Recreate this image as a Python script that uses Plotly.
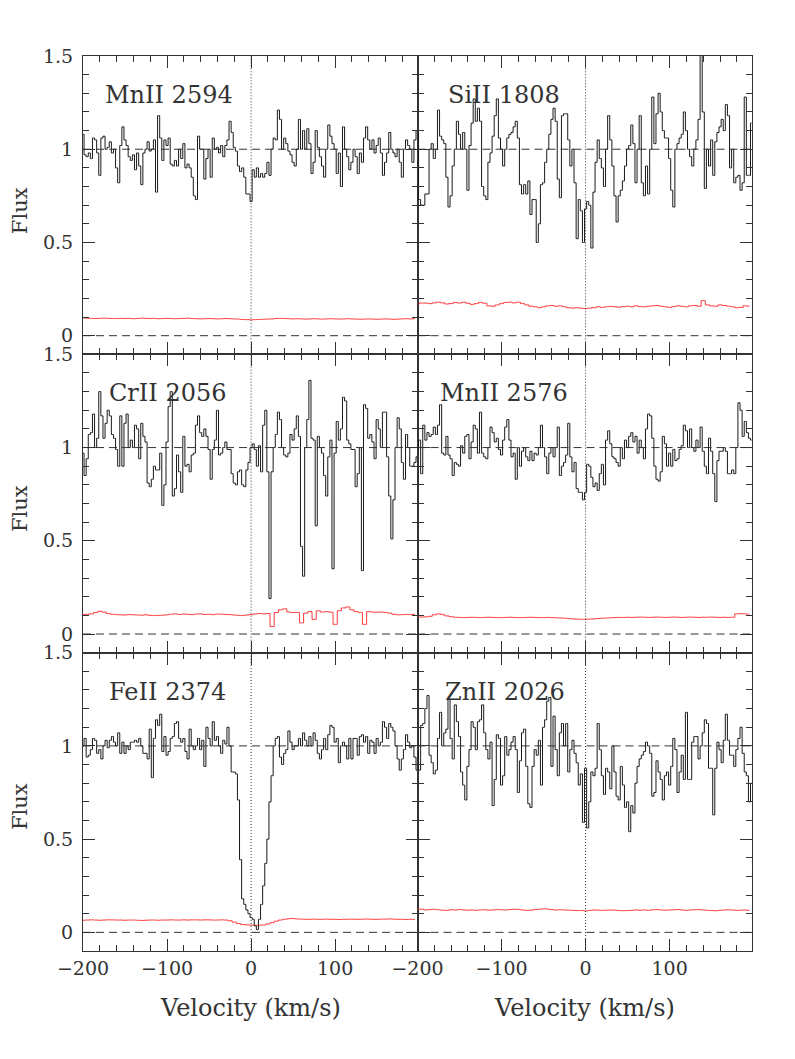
import numpy as np
import plotly.graph_objects as go
from plotly.subplots import make_subplots

# velocity bins (km/s): flux on 2.5 km/s pixels, error on 5 km/s pixels
vel = np.arange(-200, 198, 2.5)
vel_err = np.arange(-200, 198, 5)

mn2594_flux = [
    1.08, 0.97, 0.96, 0.98, 0.95, 1.06, 1.05, 0.98, 0.86, 1.06,
    1.07, 1.00, 1.01, 1.04, 0.98, 1.00, 0.90, 0.82, 1.02, 1.12,
    1.05, 1.02, 0.96, 0.94, 0.97, 0.89, 0.98, 0.91, 0.81, 0.98,
    1.00, 1.04, 0.99, 1.00, 1.05, 0.77, 1.18, 1.06, 0.94, 1.05,
    1.02, 1.06, 0.92, 0.91, 0.94, 0.91, 1.00, 0.95, 1.03, 0.90,
    0.92, 0.90, 0.85, 0.75, 0.73, 1.07, 1.00, 1.00, 0.84, 0.95,
    1.00, 0.85, 1.06, 1.00, 1.01, 0.98, 1.02, 0.96, 1.02, 1.05,
    1.15, 1.09, 1.01, 0.99, 0.91, 0.88, 0.90, 0.85, 0.76, 0.76,
    0.72, 0.89, 0.85, 0.90, 0.85, 0.87, 0.85, 0.87, 0.93, 0.86,
    1.00, 1.06, 1.05, 1.21, 1.16, 1.00, 1.06, 1.03, 0.99, 0.97,
    0.93, 0.91, 1.00, 1.16, 1.00, 1.10, 1.00, 1.11, 1.03, 0.87,
    0.93, 1.10, 1.01, 0.96, 0.91, 0.85, 1.00, 1.13, 1.07, 1.03,
    1.00, 0.87, 0.98, 0.80, 1.12, 1.00, 0.96, 0.89, 0.93, 1.00,
    0.96, 0.87, 0.98, 0.93, 1.06, 1.12, 1.05, 1.00, 1.05, 0.98,
    1.02, 1.06, 0.98, 0.86, 0.93, 0.98, 1.09, 1.00, 0.98, 0.96,
    1.00, 0.93, 0.85, 1.00, 1.05, 1.02, 1.00, 0.93, 1.05, 1.10,
]
mn2594_err = [
    0.095, 0.094, 0.093, 0.092, 0.093, 0.094, 0.093, 0.092, 0.092, 0.093,
    0.092, 0.093, 0.091, 0.092, 0.094, 0.093, 0.092, 0.093, 0.091, 0.092,
    0.093, 0.092, 0.091, 0.092, 0.093, 0.094, 0.092, 0.091, 0.090, 0.091,
    0.092, 0.091, 0.090, 0.091, 0.092, 0.091, 0.090, 0.089, 0.087, 0.086,
    0.085, 0.086, 0.087, 0.088, 0.089, 0.090, 0.092, 0.093, 0.092, 0.091,
    0.090, 0.091, 0.090, 0.089, 0.090, 0.091, 0.090, 0.089, 0.090, 0.091,
    0.090, 0.089, 0.090, 0.091, 0.090, 0.089, 0.088, 0.089, 0.090, 0.089,
    0.088, 0.089, 0.090, 0.089, 0.088, 0.089, 0.090, 0.091, 0.090, 0.091,
]

si1808_flux = [
    1.09, 0.73, 0.70, 0.70, 0.76, 0.76, 1.00, 1.03, 0.95, 1.00,
    1.21, 1.07, 1.05, 1.03, 0.85, 0.69, 0.75, 0.91, 1.00, 1.15,
    1.08, 1.00, 1.09, 1.00, 0.78, 1.02, 1.14, 1.27, 1.15, 1.22,
    1.15, 0.80, 0.75, 0.73, 0.93, 0.98, 1.07, 1.18, 1.27, 1.06,
    1.00, 0.91, 1.00, 1.06, 1.08, 1.09, 1.12, 1.15, 1.06, 0.81,
    0.76, 0.81, 0.76, 0.83, 0.65, 0.73, 0.73, 0.50, 0.60, 0.81,
    0.82, 0.93, 1.00, 1.08, 1.16, 1.22, 1.15, 0.84, 0.74, 1.18,
    1.19, 1.19, 1.05, 0.91, 1.00, 0.82, 0.52, 0.73, 0.67, 0.50,
    0.68, 0.72, 0.70, 0.47, 0.77, 0.93, 1.05, 0.95, 0.90, 0.80,
    1.00, 1.18, 1.05, 0.91, 0.75, 0.61, 0.75, 0.78, 0.83, 0.91,
    1.00, 1.02, 1.13, 1.03, 0.82, 1.00, 1.18, 0.82, 0.75, 0.91,
    0.76, 1.00, 1.28, 1.03, 1.19, 1.30, 1.20, 1.10, 1.06, 1.06,
    0.95, 0.78, 0.69, 1.00, 1.03, 1.06, 1.08, 1.20, 1.10, 1.00,
    0.96, 0.91, 1.00, 1.05, 1.16, 1.52, 1.20, 0.79, 1.00, 0.91,
    1.05, 0.86, 1.04, 1.09, 1.12, 1.16, 1.10, 1.24, 1.18, 0.90,
    1.00, 0.82, 0.85, 0.86, 0.78, 0.82, 1.28, 0.86, 0.86, 1.14,
]
si1808_err = [
    0.170, 0.175, 0.175, 0.172, 0.176, 0.180, 0.176, 0.170, 0.172, 0.178,
    0.175, 0.180, 0.174, 0.168, 0.172, 0.178, 0.174, 0.160, 0.158, 0.165,
    0.172, 0.178, 0.180, 0.176, 0.180, 0.172, 0.165, 0.158, 0.155, 0.150,
    0.155, 0.160, 0.162, 0.158, 0.160, 0.155, 0.150, 0.148, 0.150, 0.147,
    0.145, 0.148, 0.150, 0.155, 0.152, 0.155, 0.157, 0.155, 0.153, 0.156,
    0.158, 0.155, 0.160, 0.156, 0.155, 0.158, 0.160, 0.162, 0.158, 0.155,
    0.152, 0.156, 0.160, 0.158, 0.155, 0.160, 0.162, 0.158, 0.188, 0.165,
    0.160, 0.158, 0.165, 0.162, 0.158, 0.155, 0.150, 0.152, 0.160, 0.158,
]

cr2056_flux = [
    0.97, 0.85, 0.94, 1.07, 1.08, 1.18, 1.00, 1.05, 1.30, 1.17,
    1.05, 1.13, 1.20, 1.17, 1.07, 1.05, 0.99, 0.90, 1.17, 0.90,
    1.13, 1.18, 1.00, 1.04, 1.00, 1.12, 1.10, 0.94, 1.13, 1.06,
    1.03, 0.81, 0.79, 0.83, 0.90, 0.88, 0.88, 0.97, 0.69, 0.80,
    1.03, 1.22, 1.30, 0.74, 0.78, 0.96, 0.87, 0.76, 1.06, 0.90,
    0.91, 0.87, 0.96, 0.97, 1.12, 1.17, 1.08, 1.06, 1.10, 1.06,
    0.99, 0.83, 0.99, 1.04, 1.20, 0.96, 0.97, 1.00, 1.03, 0.99,
    0.99, 0.86, 0.81, 0.80, 0.87, 0.88, 0.80, 0.79, 0.88, 0.92,
    1.00, 1.02, 0.99, 0.90, 1.01, 0.87, 1.12, 1.20, 0.87, 0.19,
    0.87, 1.00, 1.07, 1.19, 1.15, 1.00, 0.96, 0.95, 0.97, 1.07,
    1.04, 1.10, 1.17, 1.06, 0.47, 0.31, 1.00, 1.15, 1.36, 1.05,
    1.04, 0.58, 1.06, 1.00, 0.97, 0.85, 0.74, 0.95, 1.04, 0.35,
    0.97, 1.14, 1.04, 1.10, 1.27, 1.25, 1.04, 1.02, 0.99, 0.99,
    0.79, 0.86, 1.00, 0.34, 1.23, 1.21, 1.05, 1.07, 1.03, 0.94,
    1.15, 1.10, 1.00, 1.19, 1.19, 0.95, 0.74, 0.51, 0.72, 1.00,
    1.16, 1.10, 0.92, 0.83, 1.07, 1.00, 0.90, 0.90, 0.92, 0.95,
]
cr2056_err = [
    0.104, 0.106, 0.108, 0.115, 0.122, 0.118, 0.110, 0.106, 0.104, 0.103,
    0.102, 0.104, 0.103, 0.102, 0.101, 0.103, 0.100, 0.099, 0.100, 0.101,
    0.103, 0.106, 0.108, 0.105, 0.107, 0.106, 0.104, 0.107, 0.108, 0.105,
    0.106, 0.104, 0.107, 0.106, 0.105, 0.104, 0.102, 0.100, 0.099, 0.102,
    0.104, 0.108, 0.110, 0.108, 0.110, 0.040, 0.115, 0.130, 0.135, 0.118,
    0.115, 0.116, 0.060, 0.112, 0.120, 0.079, 0.124, 0.118, 0.120, 0.117,
    0.052, 0.125, 0.140, 0.145, 0.130, 0.120, 0.116, 0.052, 0.120, 0.118,
    0.117, 0.118, 0.116, 0.112, 0.106, 0.103, 0.104, 0.105, 0.104, 0.106,
]

mn2576_flux = [
    0.99, 1.04, 0.86, 1.12, 1.04, 1.08, 1.06, 1.07, 1.11, 1.07,
    1.12, 1.23, 0.97, 0.96, 1.06, 0.96, 0.94, 0.85, 0.92, 0.91,
    0.90, 1.01, 0.97, 1.06, 1.07, 0.94, 1.03, 1.12, 1.10, 0.97,
    1.19, 0.97, 0.95, 0.94, 1.00, 1.11, 1.08, 1.03, 1.05, 0.99,
    0.96, 1.04, 1.11, 1.15, 1.04, 0.95, 0.97, 0.83, 1.00, 0.90,
    0.98, 1.00, 0.95, 0.93, 0.98, 0.93, 0.97, 0.96, 1.00, 1.12,
    1.00, 0.95, 0.86, 0.97, 1.00, 0.95, 1.00, 1.11, 0.85, 0.90,
    0.92, 0.96, 1.13, 0.95, 0.87, 0.92, 0.78, 0.76, 0.76, 0.72,
    0.76, 0.91, 0.90, 0.84, 0.79, 0.81, 0.77, 0.86, 0.91, 0.80,
    1.04, 1.09, 1.02, 0.95, 0.94, 0.92, 0.90, 1.00, 0.94, 1.04,
    1.00, 1.06, 1.08, 1.03, 1.06, 0.97, 1.04, 1.00, 0.94, 1.10,
    1.18, 1.17, 1.05, 0.90, 0.83, 0.82, 0.87, 1.06, 1.02, 0.90,
    0.97, 0.90, 0.99, 0.93, 0.94, 0.99, 1.01, 1.12, 1.09, 1.00,
    1.10, 1.00, 0.98, 1.04, 1.00, 1.11, 0.98, 0.90, 0.86, 1.05,
    0.98, 0.86, 0.71, 0.93, 0.98, 0.98, 1.00, 0.98, 0.86, 0.86,
    0.88, 0.86, 1.00, 1.24, 1.20, 1.06, 1.14, 1.08, 1.05, 1.04,
]
mn2576_err = [
    0.090, 0.091, 0.092, 0.095, 0.103, 0.108, 0.104, 0.097, 0.093, 0.090,
    0.089, 0.088, 0.089, 0.090, 0.089, 0.088, 0.089, 0.090, 0.089, 0.088,
    0.088, 0.089, 0.090, 0.089, 0.088, 0.088, 0.089, 0.090, 0.089, 0.088,
    0.088, 0.089, 0.088, 0.087, 0.086, 0.085, 0.083, 0.081, 0.080, 0.079,
    0.079, 0.080, 0.081, 0.083, 0.085, 0.086, 0.087, 0.088, 0.089, 0.089,
    0.090, 0.089, 0.090, 0.091, 0.090, 0.089, 0.090, 0.091, 0.090, 0.089,
    0.090, 0.091, 0.090, 0.089, 0.090, 0.091, 0.090, 0.089, 0.090, 0.090,
    0.091, 0.090, 0.089, 0.090, 0.089, 0.090, 0.108, 0.109, 0.108, 0.107,
]

fe2374_flux = [
    1.00, 1.04, 0.94, 0.95, 0.98, 1.04, 1.03, 0.96, 0.98, 0.93,
    1.00, 1.03, 0.99, 1.03, 1.05, 1.02, 1.00, 1.07, 0.96, 1.02,
    0.96, 1.00, 0.98, 1.02, 1.02, 1.03, 1.02, 1.04, 1.00, 0.96,
    0.96, 0.93, 1.09, 0.83, 1.04, 1.14, 1.11, 1.17, 0.97, 1.05,
    0.95, 0.97, 1.04, 1.05, 1.12, 1.13, 1.04, 1.02, 1.04, 0.97,
    0.93, 1.09, 1.00, 0.98, 1.00, 1.04, 0.98, 1.03, 0.89, 1.10,
    1.04, 1.00, 1.13, 1.03, 1.05, 1.00, 0.96, 1.03, 1.01, 1.10,
    1.00, 0.86, 0.86, 0.85, 0.71, 0.39, 0.18, 0.15, 0.12, 0.10,
    0.08, 0.07, 0.035, 0.015, 0.07, 0.15, 0.25, 0.37, 0.50, 0.70,
    0.84, 1.00, 1.04, 1.05, 0.94, 0.90, 0.96, 0.98, 1.08, 1.02,
    0.98, 1.00, 1.00, 1.04, 1.00, 1.07, 1.03, 1.00, 1.05, 1.00,
    1.07, 1.03, 0.96, 0.93, 0.98, 1.04, 0.98, 1.06, 1.11, 1.10,
    1.02, 1.04, 0.91, 1.00, 1.02, 1.00, 0.93, 1.04, 0.93, 1.04,
    1.04, 0.95, 1.05, 1.06, 1.02, 1.05, 0.96, 1.03, 1.02, 0.96,
    1.04, 1.00, 1.02, 1.13, 1.10, 1.04, 1.12, 1.10, 1.08, 1.00,
    0.93, 0.87, 0.93, 0.98, 1.06, 1.02, 0.99, 1.00, 0.94, 0.87,
]
fe2374_err = [
    0.065, 0.066, 0.067, 0.066, 0.065, 0.066, 0.067, 0.067, 0.066, 0.066,
    0.065, 0.066, 0.066, 0.065, 0.064, 0.065, 0.066, 0.066, 0.065, 0.066,
    0.066, 0.067, 0.066, 0.066, 0.067, 0.066, 0.067, 0.067, 0.066, 0.067,
    0.067, 0.066, 0.066, 0.067, 0.066, 0.062, 0.055, 0.047, 0.042, 0.040,
    0.039, 0.038, 0.038, 0.040, 0.045, 0.052, 0.060, 0.066, 0.070, 0.073,
    0.074, 0.072, 0.071, 0.070, 0.070, 0.071, 0.070, 0.070, 0.071, 0.070,
    0.070, 0.069, 0.070, 0.070, 0.071, 0.070, 0.070, 0.071, 0.071, 0.070,
    0.070, 0.071, 0.071, 0.072, 0.071, 0.070, 0.070, 0.069, 0.070, 0.070,
]

zn2026_flux = [
    0.97, 0.87, 1.11, 1.12, 1.20, 1.27, 0.95, 0.91, 0.85, 0.87,
    1.04, 1.18, 1.00, 1.07, 1.09, 1.25, 1.04, 0.93, 1.22, 1.13,
    1.05, 0.86, 0.79, 0.71, 0.89, 0.98, 1.13, 1.10, 0.98, 1.13,
    1.14, 1.22, 1.07, 0.98, 0.93, 1.02, 0.68, 0.82, 1.06, 1.04,
    0.79, 0.84, 1.05, 0.95, 0.98, 1.02, 1.05, 0.98, 0.75, 0.92,
    1.07, 1.09, 0.89, 0.69, 0.67, 0.89, 0.98, 0.95, 1.03, 0.79,
    1.10, 1.14, 1.24, 1.26, 0.89, 1.16, 0.98, 0.84, 1.07, 1.12,
    1.00, 1.12, 0.86, 0.98, 1.03, 0.96, 0.91, 0.79, 0.85, 0.59,
    0.88, 0.56, 0.70, 0.86, 0.84, 0.88, 1.12, 0.98, 0.84, 0.74,
    0.88, 0.86, 0.77, 1.00, 0.86, 0.73, 0.71, 0.89, 0.79, 0.67,
    0.70, 0.54, 0.68, 0.64, 0.80, 0.89, 0.93, 0.95, 0.97, 1.02,
    1.00, 0.96, 0.73, 0.75, 0.92, 0.86, 0.82, 0.71, 0.84, 0.86,
    0.79, 0.89, 1.04, 0.98, 0.75, 0.86, 0.95, 0.82, 1.18, 0.82,
    0.82, 1.02, 1.05, 1.05, 0.93, 1.00, 1.07, 1.14, 1.12, 0.88,
    0.88, 0.63, 0.88, 1.02, 0.98, 0.91, 1.03, 1.17, 1.03, 0.95,
    0.95, 0.89, 0.98, 1.04, 1.10, 0.96, 0.86, 0.84, 0.70, 0.80,
]
zn2026_err = [
    0.126, 0.124, 0.120, 0.122, 0.124, 0.121, 0.119, 0.118, 0.121, 0.120,
    0.122, 0.120, 0.119, 0.120, 0.118, 0.120, 0.121, 0.119, 0.120, 0.122,
    0.121, 0.120, 0.122, 0.124, 0.123, 0.120, 0.118, 0.119, 0.122, 0.124,
    0.126, 0.125, 0.122, 0.120, 0.121, 0.120, 0.119, 0.118, 0.117, 0.117,
    0.115, 0.118, 0.120, 0.119, 0.118, 0.119, 0.120, 0.119, 0.117, 0.116,
    0.117, 0.118, 0.120, 0.119, 0.120, 0.118, 0.121, 0.122, 0.120, 0.119,
    0.120, 0.121, 0.122, 0.120, 0.118, 0.120, 0.121, 0.122, 0.120, 0.118,
    0.117, 0.116, 0.118, 0.120, 0.121, 0.120, 0.118, 0.119, 0.120, 0.118,
]

# (label, flux, error, row, col, label x position in panel)
panels = [
    ("MnII 2594", mn2594_flux, mn2594_err, 1, 1, 0.06),
    ("SiII 1808", si1808_flux, si1808_err, 1, 2, 0.084),
    ("CrII 2056", cr2056_flux, cr2056_err, 2, 1, 0.072),
    ("MnII 2576", mn2576_flux, mn2576_err, 2, 2, 0.06),
    ("FeII 2374", fe2374_flux, fe2374_err, 3, 1, 0.072),
    ("ZnII 2026", zn2026_flux, zn2026_err, 3, 2, 0.075),
]

ink = "#333333"
fnt = "DejaVu Serif"

fig = make_subplots(rows=3, cols=2, horizontal_spacing=0, vertical_spacing=0)

for label, flux, err, r, c, lx in panels:
    fig.add_trace(go.Scatter(x=vel_err, y=err, mode="lines", line_shape="hvh",
                             line=dict(color="#ff3b3b", width=1)), row=r, col=c)
    fig.add_trace(go.Scatter(x=vel, y=flux, mode="lines", line_shape="hvh",
                             line=dict(color="#1a1a1a", width=1)), row=r, col=c)
    fig.add_hline(y=1, line=dict(color=ink, width=1, dash="8px,5px"), row=r, col=c)
    fig.add_hline(y=0, line=dict(color=ink, width=1, dash="8px,5px"), row=r, col=c)
    fig.add_vline(x=0, line=dict(color=ink, width=1, dash="1px,2px"), row=r, col=c)
    fig.add_annotation(text=label, x=lx, y=0.869, xref="x domain", yref="y domain",
                       xanchor="left", yanchor="middle", showarrow=False,
                       font=dict(family=fnt, size=24, color=ink), row=r, col=c)

fig.update_xaxes(range=[-200, 198], tick0=0, dtick=100, ticks="inside", ticklen=12,
                 tickcolor=ink, showline=True, linecolor=ink, linewidth=1, mirror="ticks",
                 showgrid=False, zeroline=False, tickfont=dict(family=fnt, size=19, color=ink),
                 minor=dict(dtick=20, tick0=0, ticks="inside", ticklen=6, tickcolor=ink,
                            showgrid=False))
fig.update_yaxes(range=[-0.1, 1.5], tick0=0, dtick=0.5, ticks="inside", ticklen=12,
                 tickcolor=ink, showline=True, linecolor=ink, linewidth=1, mirror="ticks",
                 showgrid=False, zeroline=False, tickfont=dict(family=fnt, size=19, color=ink),
                 ticklabelstandoff=5,
                 minor=dict(dtick=0.1, tick0=0, ticks="inside", ticklen=6, tickcolor=ink,
                            showgrid=False))
for r in (1, 2):
    for c in (1, 2):
        fig.update_xaxes(showticklabels=False, row=r, col=c)
for r in (1, 2, 3):
    fig.update_yaxes(showticklabels=False, row=r, col=2)

# axis titles
for yc in (0.8268, 0.4939, 0.1609):
    fig.add_annotation(text="Flux", x=-0.094, y=yc, xref="paper", yref="paper",
                       textangle=-90, showarrow=False, xanchor="center", yanchor="middle",
                       font=dict(family=fnt, size=21, color=ink))
for xc in (0.25, 0.75):
    fig.add_annotation(text="Velocity (km/s)", x=xc, y=-0.0637, xref="paper", yref="paper",
                       showarrow=False, xanchor="center", yanchor="middle",
                       font=dict(family=fnt, size=24, color=ink))

# the page adds an 8px body margin, so the margins are trimmed by that much
fig.update_layout(width=795, height=1059, margin=dict(l=75, r=51, t=48, b=116),
                  paper_bgcolor="white", plot_bgcolor="white", showlegend=False)

fig.write_html("out.html")
